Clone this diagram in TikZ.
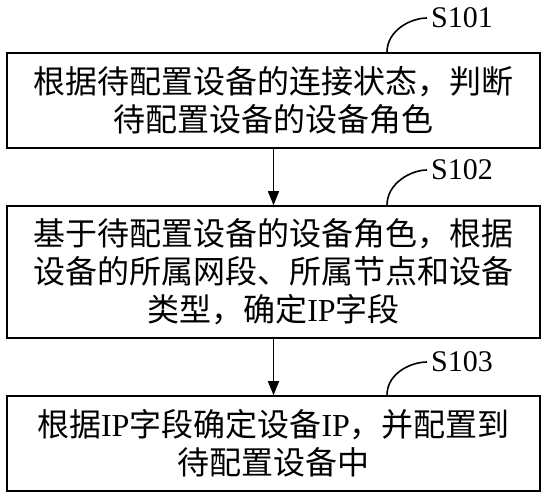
\documentclass[tikz,border=0pt]{standalone}
\usepackage{fontspec}
\setmainfont{Liberation Serif}
\newfontfamily\cjk{Noto Sans CJK SC}
\usetikzlibrary{arrows.meta}
\begin{document}
\begin{tikzpicture}[x=1pt,y=-1pt,
  stepbox/.style={draw, line width=1.6pt, minimum width=533pt, align=center,
    font=\cjk\fontsize{32}{38}\selectfont, inner sep=0pt},
  lbl/.style={font=\fontsize{30}{30}\selectfont, anchor=west, inner sep=0pt},
  conn/.style={line width=1.6pt, -{Triangle[width=11pt,length=14pt]}},
  hook/.style={line width=1.6pt}]
\useasboundingbox (0,0) rectangle (548,500);
\node[stepbox, minimum height=95pt] (b1) at (273.5,100.5)
  {根据待配置设备的连接状态，判断\\待配置设备的设备角色};
\node[stepbox, minimum height=132pt] (b2) at (273.5,272)
  {基于待配置设备的设备角色，根据\\设备的所属网段、所属节点和设备\\类型，确定{\rmfamily IP}字段};
\node[stepbox, minimum height=95pt] (b3) at (273.5,443.5)
  {根据{\rmfamily IP}字段确定设备{\rmfamily IP}，并配置到\\待配置设备中};
\node[lbl] (l1) at (431,18) {S101};
\node[lbl] (l2) at (431,170) {S102};
\node[lbl] (l3) at (431,362) {S103};
\draw[conn] (b1) -- (b2);
\draw[conn] (b2) -- (b3);
\draw[hook] ([xshift=113.5pt]b1.north) .. controls +(0,-22) and +(-16,0) .. ([xshift=-4pt]l1.west);
\draw[hook] ([xshift=113.5pt]b2.north) .. controls +(0,-22) and +(-16,0) .. ([xshift=-4pt]l2.west);
\draw[hook] ([xshift=113.5pt]b3.north) .. controls +(0,-22) and +(-16,0) .. ([xshift=-4pt]l3.west);
\end{tikzpicture}
\end{document}
